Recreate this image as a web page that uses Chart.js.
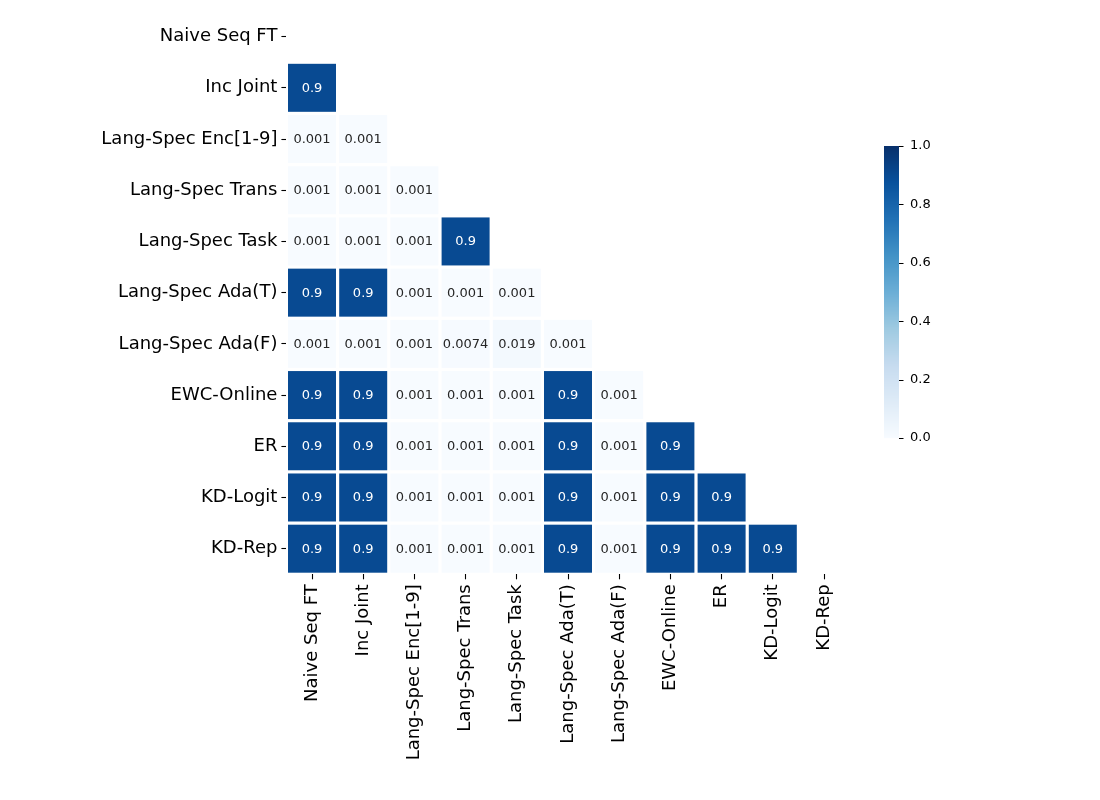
<!DOCTYPE html>
<html>
<head>
<meta charset="utf-8">
<script src="https://cdn.jsdelivr.net/npm/chart.js@4/dist/chart.umd.min.js"></script>
<style>
  html, body { margin: 0; padding: 0; background: #fff; }
  #wrap { width: 1100px; height: 800px; }
</style>
</head>
<body>
<div id="wrap"><canvas id="c" width="1100" height="800"></canvas></div>
<script>
// ---- data ----
const methods = ["Naive Seq FT", "Inc Joint", "Lang-Spec Enc[1-9]", "Lang-Spec Trans", "Lang-Spec Task",
  "Lang-Spec Ada(T)", "Lang-Spec Ada(F)", "EWC-Online", "ER", "KD-Logit", "KD-Rep"];
// lower-triangle rows (row i holds columns 0..i-1)
const rowNaiveSeqFT = [];
const rowIncJoint = [0.9];
const rowLangSpecEnc = [0.001, 0.001];
const rowLangSpecTrans = [0.001, 0.001, 0.001];
const rowLangSpecTask = [0.001, 0.001, 0.001, 0.9];
const rowLangSpecAdaT = [0.9, 0.9, 0.001, 0.001, 0.001];
const rowLangSpecAdaF = [0.001, 0.001, 0.001, 0.0074, 0.019, 0.001];
const rowEWCOnline = [0.9, 0.9, 0.001, 0.001, 0.001, 0.9, 0.001];
const rowER = [0.9, 0.9, 0.001, 0.001, 0.001, 0.9, 0.001, 0.9];
const rowKDLogit = [0.9, 0.9, 0.001, 0.001, 0.001, 0.9, 0.001, 0.9, 0.9];
const rowKDRep = [0.9, 0.9, 0.001, 0.001, 0.001, 0.9, 0.001, 0.9, 0.9, 0.9];
const colorbarTicks = [0.0, 0.2, 0.4, 0.6, 0.8, 1.0];

const rows = [rowNaiveSeqFT, rowIncJoint, rowLangSpecEnc, rowLangSpecTrans, rowLangSpecTask,
  rowLangSpecAdaT, rowLangSpecAdaF, rowEWCOnline, rowER, rowKDLogit, rowKDRep];

// ---- Blues colormap ----
const bluesStops = [
  [247,251,255],[222,235,247],[198,219,239],[158,202,225],[107,174,214],
  [66,146,198],[33,113,181],[8,81,156],[8,48,107]
];
function blues(t) {
  t = Math.max(0, Math.min(1, t));
  const n = bluesStops.length - 1;
  const p = t * n;
  const i = Math.min(n - 1, Math.floor(p));
  const f = p - i;
  const a = bluesStops[i], b = bluesStops[i + 1];
  return [0,1,2].map(k => Math.round(a[k] + (b[k] - a[k]) * f));
}
function rgb(c) { return `rgb(${c[0]},${c[1]},${c[2]})`; }
function luminance(c) {
  const lin = c.map(v => { v /= 255; return v <= 0.03928 ? v / 12.92 : Math.pow((v + 0.055) / 1.055, 2.4); });
  return 0.2126 * lin[0] + 0.7152 * lin[1] + 0.0722 * lin[2];
}
function fmt2g(v) { return String(Number(v.toPrecision(2))); }

const points = [];
rows.forEach((row, i) => row.forEach((v, j) => points.push({ x: j, y: i, v: v })));

const FONT = "'DejaVu Sans', sans-serif";

const heatmapPlugin = {
  id: 'heatmap',
  beforeDatasetsDraw(chart) {
    const { ctx } = chart;
    const xs = chart.scales.x, ys = chart.scales.y;
    const gap = 1.6;
    ctx.save();
    chart.data.datasets[0].data.forEach(p => {
      const xa = xs.getPixelForValue(p.x - 0.5), xb = xs.getPixelForValue(p.x + 0.5);
      const ya = ys.getPixelForValue(p.y - 0.5), yb = ys.getPixelForValue(p.y + 0.5);
      const l = Math.min(xa, xb), r = Math.max(xa, xb), t = Math.min(ya, yb), b = Math.max(ya, yb);
      const c = blues(p.v);
      ctx.fillStyle = rgb(c);
      ctx.fillRect(l + gap, t + gap, r - l - 2 * gap, b - t - 2 * gap);
      ctx.fillStyle = luminance(c) > 0.408 ? '#262626' : '#ffffff';
      ctx.font = `13px ${FONT}`;
      ctx.textAlign = 'center';
      ctx.textBaseline = 'middle';
      ctx.fillText(fmt2g(p.v), (l + r) / 2, (t + b) / 2 + 0.5);
    });
    ctx.restore();
  },
  afterDraw(chart) {
    // colorbar
    const { ctx } = chart;
    const left = 884, right = 899, top = 146, bottom = 438;
    ctx.save();
    const h = bottom - top;
    for (let k = 0; k < h; k++) {
      ctx.fillStyle = rgb(blues(1 - (k + 0.5) / h));
      ctx.fillRect(left, top + k, right - left, 1.2);
    }
    ctx.strokeStyle = '#000';
    ctx.lineWidth = 1;
    ctx.fillStyle = '#000';
    ctx.font = `13px ${FONT}`;
    ctx.textAlign = 'left';
    ctx.textBaseline = 'middle';
    colorbarTicks.forEach(v => {
      const yy = bottom - v * h;
      ctx.beginPath();
      ctx.moveTo(right, Math.round(yy) + 0.5);
      ctx.lineTo(right + 4.5, Math.round(yy) + 0.5);
      ctx.stroke();
      ctx.fillText(v.toFixed(1), right + 11, yy);
    });
    ctx.restore();
  }
};

const idxTicks = scale => { scale.ticks = methods.map((_, i) => ({ value: i })); };

new Chart(document.getElementById('c'), {
  type: 'scatter',
  data: { datasets: [{ data: points, pointRadius: 0, pointHoverRadius: 0 }] },
  options: {
    responsive: false,
    animation: false,
    events: [],
    layout: { padding: { top: 11, right: 250.4, left: 0, bottom: 0 } },
    plugins: { legend: { display: false }, tooltip: { enabled: false } },
    scales: {
      x: {
        type: 'linear', min: -0.5, max: 10.5,
        afterBuildTicks: idxTicks,
        afterFit: s => { s.height = 225.7; s.paddingLeft = 0; s.paddingRight = 0; },
        border: { display: false },
        grid: { drawOnChartArea: false, drawTicks: true, tickLength: 5, tickColor: '#000', tickWidth: 1.1 },
        ticks: {
          autoSkip: false, minRotation: 90, maxRotation: 90, padding: 5,
          color: '#000', font: { family: FONT, size: 18 },
          callback: v => methods[v]
        }
      },
      y: {
        type: 'linear', min: -0.5, max: 10.5, reverse: true,
        afterBuildTicks: idxTicks,
        afterFit: s => { s.width = 286.4; s.paddingTop = 0; s.paddingBottom = 0; },
        border: { display: false },
        grid: { drawOnChartArea: false, drawTicks: true, tickLength: 5, tickColor: '#000', tickWidth: 1.1 },
        ticks: {
          autoSkip: false, padding: 4,
          color: '#000', font: { family: FONT, size: 18 },
          callback: v => methods[v]
        }
      }
    }
  },
  plugins: [heatmapPlugin]
});
</script>
</body>
</html>
